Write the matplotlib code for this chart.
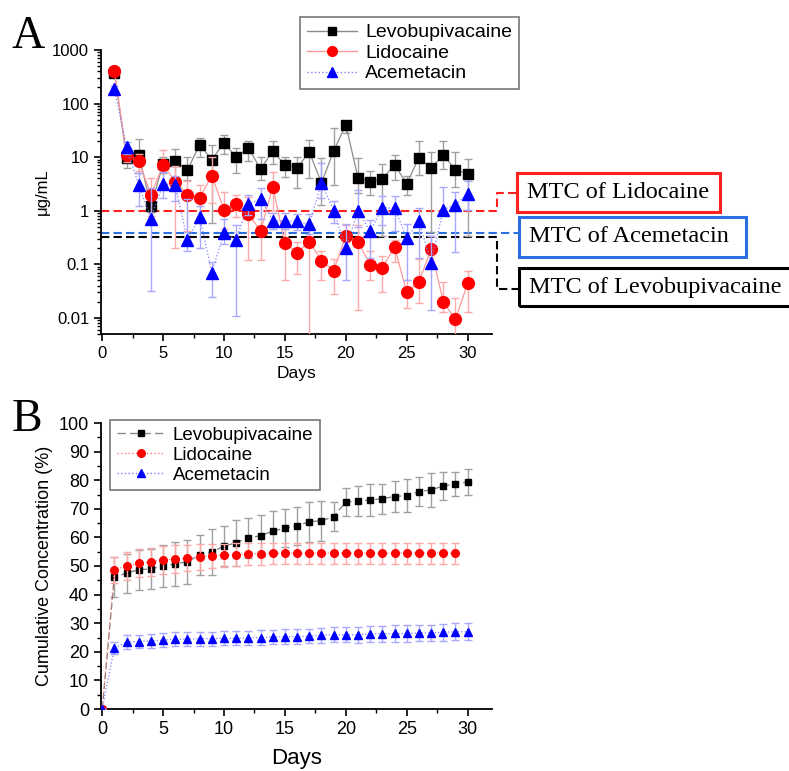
import matplotlib
matplotlib.use("Agg")
from matplotlib import pyplot as plt
from matplotlib.patches import Rectangle
from matplotlib.lines import Line2D
from matplotlib.ticker import MultipleLocator, LogLocator, NullFormatter

plt.rcParams['font.family'] = ['Liberation Sans', 'DejaVu Sans']

# ---- Panel A data: daily release (ug/mL), days 1-30
days_a = list(range(1, 31))
levo_a = [380, 9.7, 11, 1.24, 7.5, 8.5, 5.8, 17, 9, 18.5, 10, 15, 6, 13, 7.2,
          6.3, 12.5, 3.3, 13, 40, 4.1, 3.5, 3.9, 7.2, 3.2, 9.7, 6.3, 11, 5.8, 4.9]
levo_a_lo = [40, 3.5, 6, 0.3, 2.5, 5, 2, 7, 8.4, 7, 5, 6.5, 2.3, 5.5, 3,
             3.7, 8.5, 2, 10, 12, 2, 1.5, 3.56, 3.5, 1.2, 5, 5.9, 5, 3, 4.56]
levo_a_hi = [40, 3.5, 11, 0.3, 2.5, 5.5, 4.2, 6, 8, 7.5, 5, 5, 4, 7, 3,
             3.7, 8.5, 6.4, 22, 8, 5.6, 2, 3.6, 3.8, 1.2, 10, 6.2, 9, 6.7, 4.4]

lido_a = [400, 11, 8.5, 2.0, 7.2, 3.5, 2.0, 1.75, 4.5, 1.05, 1.35, 0.88, 0.42, 2.8, 0.25,
          0.165, 0.265, 0.117, 0.076, 0.34, 0.265, 0.099, 0.087, 0.21, 0.030, 0.047, 0.19,
          0.020, 0.0094, 0.044]
lido_a_lo = [60, 3, 3, 1.2, 4, 3.3, 1.58, 1.0, 3.1, 0.6, 0.6, 0.76, 0.3, 1.8, 0.2,
             0.1, 0.3, 0.065, 0.048, 0.15, 0.251, 0.047, 0.056, 0.1, 0.015, 0.028, 0.1,
             0.007, 0.005, 0.031]
lido_a_hi = [60, 3, 3, 2.1, 6.3, 3.3, 1.6, 1.25, 5.5, 1.15, 0.6, 0.9, 0.93, 2.5, 0.2,
             0.1, 0.25, 0.063, 0.052, 0.2, 0.265, 0.081, 0.058, 0.07, 0.02, 0.081, 0.15,
             0.026, 0.0146, 0.032]

acem_a = [185, 15.5, 3.0, 0.71, 3.2, 3.0, 0.28, 0.77, 0.07, 0.39, 0.29, 1.35, 1.67, 0.65, 0.65,
          0.63, 0.56, 3.3, 1.0, 0.2, 1.0, 0.41, 1.14, 1.12, 0.31, 0.63, 0.108, 1.05, 1.3, 2.05]
acem_a_lo = [30, 4, 1.75, 0.678, 1.5, 1.5, 0.1, 0.57, 0.045, 0.15, 0.279, 0.5, 0.97, 0.2, 0.2,
             0.2, 0.2, 1.55, 0.4, 0.15, 0.5, 0.28, 0.61, 0.7, 0.26, 0.5, 0.094, 0.17, 1.13, 1.0]
acem_a_hi = [30, 4, 2, 2.0, 2, 1.5, 1.39, 0.48, 0.04, 0.31, 0.26, 0.6, 1.03, 0.25, 0.25,
             0.25, 0.3, 4.5, 0.5, 0.37, 1.4, 0.27, 0.76, 0.76, 0.26, 0.51, 0.232, 1.75, 0.95, 1.5]

# minimum toxic concentrations (ug/mL)
mtc_names = ["Lidocaine", "Acemetacin", "Levobupivacaine"]
mtc_values = [1.0, 0.39, 0.33]

# ---- Panel B data: cumulative concentration (%)
days_b = list(range(0, 31))
levo_b = [0, 46.2, 47.5, 48.7, 49, 50, 50.8, 51.5, 53.8, 54.8, 57, 58.1, 59.8, 60.6, 62.2,
          63.2, 64, 65.5, 65.8, 67.3, 72.4, 72.7, 73.1, 73.5, 74.3, 74.6, 76, 76.6, 78, 78.7, 79.4]
levo_b_sd = [0, 7, 6.8, 7, 7, 7.3, 7.7, 7.7, 7, 8, 7, 8, 7, 7.2, 7,
             6.7, 6.5, 7, 7, 5, 5, 5.3, 5.6, 5.2, 5.5, 5.8, 5, 6, 5, 4.3, 4.5]
days_b_lido = list(range(0, 30))
lido_b = [0, 48.7, 50, 51, 51.4, 52.1, 52.4, 52.7, 53.2, 53.6, 53.8, 54, 54.2, 54.3, 54.4,
          54.5, 54.5, 54.5, 54.5, 54.5, 54.5, 54.5, 54.5, 54.5, 54.5, 54.5, 54.5, 54.5, 54.5, 54.5]
lido_b_sd = [0, 4.6, 5, 5, 5, 5, 5, 4.5, 4.5, 4.2, 4, 4, 4, 3.8, 3.8,
             3.7, 3.7, 3.7, 3.7, 3.7, 3.7, 3.7, 3.7, 3.7, 3.7, 3.7, 3.7, 3.7, 3.7, 3.7]
acem_b = [0, 21.4, 23.4, 23.6, 23.8, 24.1, 24.4, 24.4, 24.6, 24.6, 24.7, 24.7, 24.9, 25, 25.2,
          25.3, 25.3, 25.5, 25.8, 26, 26, 26, 26.2, 26.3, 26.4, 26.4, 26.6, 26.6, 26.8, 27, 27]
acem_b_sd = [0, 2.2, 2.3, 2.3, 2.3, 2.4, 2.4, 2.4, 2.4, 2.4, 2.4, 2.4, 2.4, 2.5, 2.5,
             2.5, 2.5, 2.5, 2.6, 2.7, 2.7, 2.8, 2.8, 2.8, 2.9, 2.9, 2.9, 2.9, 3.0, 3.0, 3.0]

W, H = 789, 771
fig = plt.figure(figsize=(W / 100, H / 100), dpi=100)


def fx(px):
    return px / W


def fy(py):
    return 1 - py / H


def style_axes(ax):
    for s in ["top", "right"]:
        ax.spines[s].set_visible(False)
    for s in ["left", "bottom"]:
        ax.spines[s].set_linewidth(1.3)
    ax.tick_params(which="major", direction="out", length=5, width=1.2)
    ax.tick_params(which="minor", direction="out", length=3, width=1)
    ax.set_xlim(-0.1, 32)
    ax.xaxis.set_major_locator(MultipleLocator(5))
    ax.xaxis.set_minor_locator(MultipleLocator(2.5))


def add_legend(ax, handles, x0, y0, hl, fs):
    leg = ax.legend(handles=handles, loc="upper left", bbox_to_anchor=(fx(x0), fy(y0)),
                    bbox_transform=fig.transFigure, fontsize=fs, frameon=True,
                    fancybox=False, edgecolor="#555555", handlelength=hl,
                    borderpad=0.35, labelspacing=0.15, handletextpad=0.4,
                    borderaxespad=0)
    leg.get_frame().set_linewidth(1.2)
    return leg


# ---------------- Panel A ----------------
axA = fig.add_axes([fx(101), fy(334), fx(492) - fx(101), fy(50) - fy(334)])
axA.set_yscale("log")
style_axes(axA)
axA.set_ylim(0.005, 1000)
axA.yaxis.set_minor_locator(LogLocator(base=10, subs=range(2, 10), numticks=20))
axA.yaxis.set_minor_formatter(NullFormatter())
axA.set_yticks([0.01, 0.1, 1, 10, 100, 1000])
axA.set_yticklabels(["0.01", "0.1", "1", "10", "100", "1000"])
axA.tick_params(labelsize=12)

axA.errorbar(days_a, levo_a, yerr=[levo_a_lo, levo_a_hi], color="#8c8c8c", lw=0.9,
             marker="s", ms=7.5, mfc="black", mec="black", ecolor="#a0a0a0",
             elinewidth=1, capsize=3, zorder=3)
axA.errorbar(days_a, lido_a, yerr=[lido_a_lo, lido_a_hi], color="#ff9a9a", lw=0.9,
             marker="o", ms=8.5, mfc="red", mec="red", ecolor="#ffaaaa",
             elinewidth=1, capsize=3, zorder=4)
axA.errorbar(days_a, acem_a, yerr=[acem_a_lo, acem_a_hi], color="#8080ff", lw=0.9, ls=":",
             marker="^", ms=9, mfc="blue", mec="blue", ecolor="#a8a8ff",
             elinewidth=1, capsize=3, zorder=5)

handles_a = [
    Line2D([], [], color="#8c8c8c", lw=1, marker="s", ms=6, mfc="black", mec="black",
           label="Levobupivacaine"),
    Line2D([], [], color="#ff9a9a", lw=1, marker="o", ms=7, mfc="red", mec="red",
           label="Lidocaine"),
    Line2D([], [], color="#8080ff", lw=1, ls=":", marker="^", ms=7, mfc="blue", mec="blue",
           label="Acemetacin"),
]
add_legend(axA, handles_a, 300, 17, 2.6, 14)

axA.set_xlabel("Days", fontsize=12.5, labelpad=4)
axA.set_ylabel("\u03bcg/mL", fontsize=12, labelpad=2)

# MTC dashed lines and their labels
mtc_colors = ["#ff2020", "#2a6fe0", "black"]
box_px = [(517, 173, 720, 212), (519, 217, 746, 257), (519, 268, 800, 306)]
bend_y = [2.17, None, 0.035]
x_bend, x_box = 32.45, 34.1
for val, col, by in zip(mtc_values, mtc_colors, bend_y):
    xs = [-0.1, x_bend]
    ys = [val, val]
    if by is not None:
        xs += [x_bend, x_box]
        ys += [by, by]
    else:
        xs += [x_box]
        ys += [val]
    axA.plot(xs, ys, color=col, lw=1.5, ls=(0, (4, 2)), clip_on=False, zorder=2)

for name, col, (x0, y0, x1, y1) in zip(mtc_names, mtc_colors, box_px):
    rect = Rectangle((fx(x0), fy(y1)), fx(x1) - fx(x0), fy(y0) - fy(y1),
                     transform=fig.transFigure, fill=False, edgecolor=col, lw=2.2)
    fig.patches.append(rect)
    fig.text(fx(x0 + 10), (fy(y0) + fy(y1)) / 2, "MTC of " + name,
             family="Liberation Serif", fontsize=17.5, va="center", ha="left")

fig.text(fx(12), fy(37), "A", family="Liberation Serif", fontsize=33, va="center", ha="left")

# ---------------- Panel B ----------------
axB = fig.add_axes([fx(101), fy(709), fx(492) - fx(101), fy(423) - fy(709)])
style_axes(axB)
axB.set_ylim(0, 100)
axB.yaxis.set_major_locator(MultipleLocator(10))
axB.yaxis.set_minor_locator(MultipleLocator(5))
axB.tick_params(labelsize=13)

axB.errorbar(days_b, levo_b, yerr=levo_b_sd, color="#7a7a7a", lw=0.9, ls=(0, (5, 3)),
             marker="s", ms=5, mfc="black", mec="black", ecolor="#a0a0a0",
             elinewidth=1, capsize=3, zorder=3)
axB.errorbar(days_b_lido, lido_b, yerr=lido_b_sd, color="#ff8080", lw=0.9, ls=":",
             marker="o", ms=5.5, mfc="red", mec="red", ecolor="#ffa8a8",
             elinewidth=1, capsize=3, zorder=4)
axB.errorbar(days_b, acem_b, yerr=acem_b_sd, color="#8080ff", lw=0.9, ls=":",
             marker="^", ms=6, mfc="blue", mec="blue", ecolor="#a8a8ff",
             elinewidth=1, capsize=3, zorder=5)

handles_b = [
    Line2D([], [], color="#8c8c8c", lw=1, ls=(0, (6, 3)), marker="s", ms=5, mfc="black",
           mec="black", label="Levobupivacaine"),
    Line2D([], [], color="#ff8080", lw=1, ls=":", marker="o", ms=5.5, mfc="red", mec="red",
           label="Lidocaine"),
    Line2D([], [], color="#8080ff", lw=1, ls=":", marker="^", ms=5.5, mfc="blue", mec="blue",
           label="Acemetacin"),
]
add_legend(axB, handles_b, 110, 420, 2.6, 13.5)

axB.set_xlabel("Days", fontsize=16, labelpad=7)
axB.set_ylabel("Cumulative Concentration (%)", fontsize=13, labelpad=4)

fig.text(fx(12), fy(420), "B", family="Liberation Serif", fontsize=33, va="center", ha="left")

fig.savefig("out.png", dpi=100)
